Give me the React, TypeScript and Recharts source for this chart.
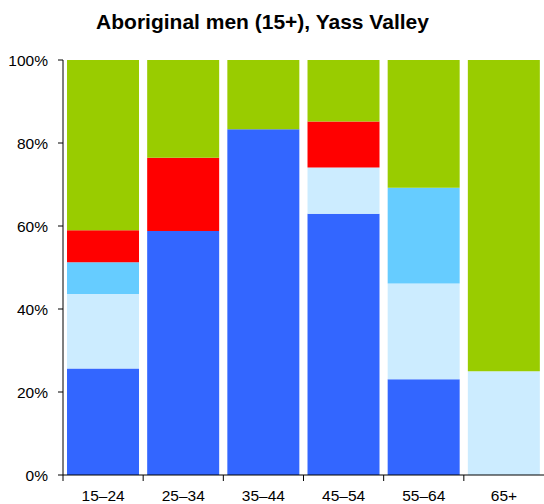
import React from "react";
import { BarChart, Bar, XAxis, YAxis } from "recharts";

const categories = ["15–24", "25–34", "35–44", "45–54", "55–64", "65+"];
const seriesA = [10, 10, 5, 17, 3, 0]; // blue
const seriesB = [7, 0, 0, 3, 3, 1]; // light blue
const seriesC = [3, 0, 0, 0, 3, 0]; // mid blue
const seriesD = [3, 3, 0, 3, 0, 0]; // red
const seriesE = [16, 4, 1, 4, 4, 3]; // green
const yTicks = [0, 0.2, 0.4, 0.6, 0.8, 1];

const data = categories.map((c, i) => ({
  name: c,
  a: seriesA[i],
  b: seriesB[i],
  c: seriesC[i],
  d: seriesD[i],
  e: seriesE[i],
}));

const W = 544;
const H = 504;
const LEFT = 63;
const RIGHT_MARGIN = 0;
const TOP = 60;
const XH = 29;
const band = (W - LEFT - RIGHT_MARGIN) / categories.length;
const FONT = "'Liberation Sans', Arial, Helvetica, sans-serif";

const XTick = (props: any) => {
  const { x, y, payload } = props;
  return (
    <g>
      <line x1={x - band / 2} x2={x - band / 2} y1={y - 8} y2={y - 2} stroke="#000" />
      <text x={x} y={y} dy={18} textAnchor="middle" fontSize={15.5} fill="#000" fontFamily={FONT}>
        {payload.value}
      </text>
    </g>
  );
};

export default function App() {
  return (
    <div style={{ position: "absolute", left: 0, top: 0, width: W, height: H, background: "#fff" }}>
      <div
        style={{
          position: "absolute",
          left: 0,
          top: 10,
          width: 525,
          textAlign: "center",
          fontFamily: FONT,
          fontWeight: "bold",
          fontSize: 21,
          color: "#000",
        }}
      >
        Aboriginal men (15+), Yass Valley
      </div>
      <BarChart
        width={W}
        height={H}
        data={data}
        stackOffset="expand"
        barCategoryGap="5%"
        margin={{ top: TOP, right: RIGHT_MARGIN, bottom: 0, left: 0 }}
      >
        <XAxis
          dataKey="name"
          height={XH}
          axisLine={{ stroke: "#000" }}
          tickLine={false}
          tick={<XTick />}
          interval={0}
        />
        <YAxis
          width={LEFT}
          domain={[0, 1]}
          ticks={yTicks}
          tickFormatter={(v: number) => `${Math.round(v * 100)}%`}
          axisLine={{ stroke: "#000" }}
          tickLine={{ stroke: "#000" }}
          tickSize={5}
          tick={{ fill: "#000", fontSize: 15.5, fontFamily: FONT }}
          tickMargin={10}
        />
        <Bar dataKey="a" stackId="s" fill="#3366FF" isAnimationActive={false} />
        <Bar dataKey="b" stackId="s" fill="#CCECFF" isAnimationActive={false} />
        <Bar dataKey="c" stackId="s" fill="#66CCFF" isAnimationActive={false} />
        <Bar dataKey="d" stackId="s" fill="#FF0000" isAnimationActive={false} />
        <Bar dataKey="e" stackId="s" fill="#99CC00" isAnimationActive={false} />
      </BarChart>
    </div>
  );
}
